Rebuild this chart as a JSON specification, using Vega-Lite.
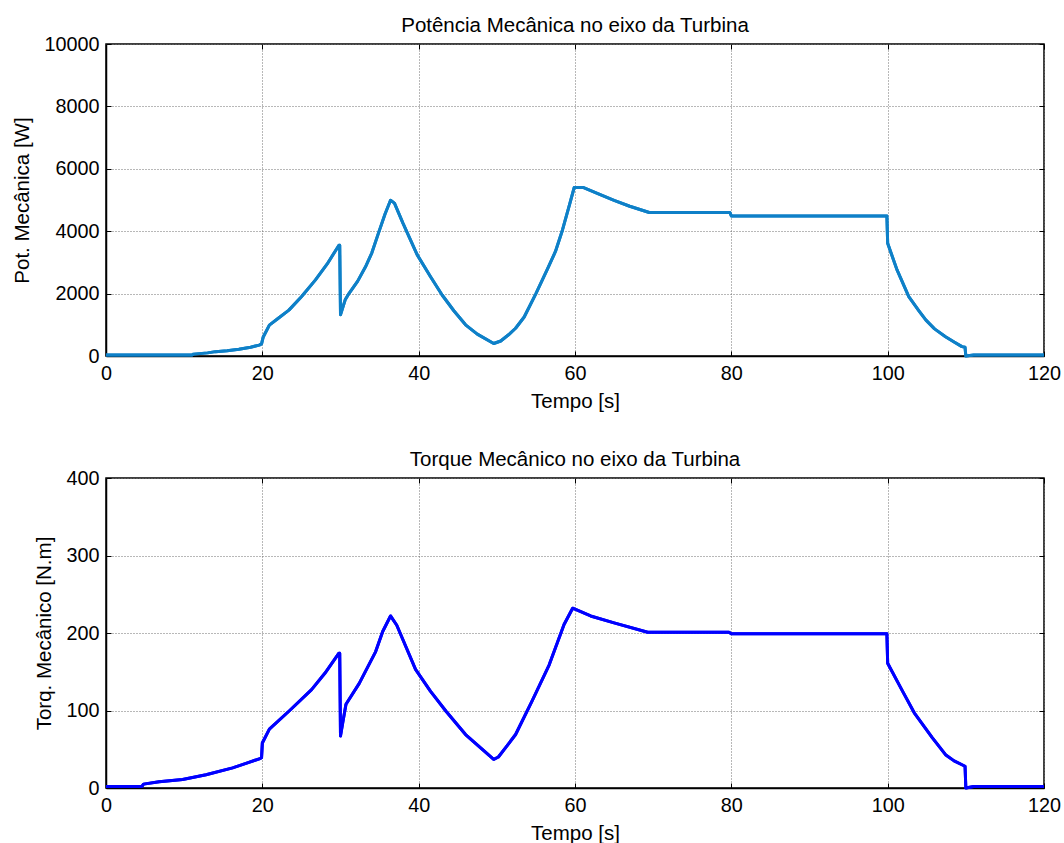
{
  "$schema": "https://vega.github.io/schema/vega-lite/v6.json",
  "background": "white",
  "padding": {"left": 12, "top": 14, "right": 12, "bottom": 2},
  "spacing": 34,
  "datasets": {
    "power": [
      {"t": 0, "p": 30}, {"t": 11, "p": 30}, {"t": 11.2, "p": 60}, {"t": 13, "p": 100}, {"t": 14, "p": 140},
      {"t": 15.5, "p": 170}, {"t": 17, "p": 215}, {"t": 18.5, "p": 280}, {"t": 19.6, "p": 350}, {"t": 19.9, "p": 390},
      {"t": 20.1, "p": 600}, {"t": 20.9, "p": 990}, {"t": 22, "p": 1200}, {"t": 23.4, "p": 1470}, {"t": 25, "p": 1900},
      {"t": 26.8, "p": 2440}, {"t": 28.3, "p": 2950}, {"t": 29.8, "p": 3550}, {"t": 29.9, "p": 3550}, {"t": 30.0, "p": 1320},
      {"t": 30.6, "p": 1800}, {"t": 31.1, "p": 2010}, {"t": 32.2, "p": 2400}, {"t": 33.2, "p": 2860}, {"t": 34.0, "p": 3300},
      {"t": 34.9, "p": 3970}, {"t": 35.7, "p": 4550}, {"t": 36.4, "p": 4990}, {"t": 36.9, "p": 4900}, {"t": 38, "p": 4250},
      {"t": 39.8, "p": 3250}, {"t": 41.5, "p": 2550}, {"t": 43, "p": 1955}, {"t": 44.5, "p": 1450}, {"t": 46, "p": 1000},
      {"t": 47.5, "p": 700}, {"t": 49.6, "p": 400}, {"t": 50.5, "p": 480}, {"t": 51.5, "p": 680}, {"t": 52.4, "p": 890},
      {"t": 53.5, "p": 1250}, {"t": 55, "p": 2000}, {"t": 56.5, "p": 2800}, {"t": 57.5, "p": 3350}, {"t": 58.4, "p": 4040},
      {"t": 59.3, "p": 4850}, {"t": 59.9, "p": 5400}, {"t": 61.1, "p": 5400}, {"t": 63, "p": 5200}, {"t": 65, "p": 4990},
      {"t": 67, "p": 4800}, {"t": 69.5, "p": 4600}, {"t": 79.8, "p": 4600}, {"t": 80, "p": 4490}, {"t": 99.9, "p": 4490},
      {"t": 100, "p": 3610}, {"t": 101.2, "p": 2760}, {"t": 102.7, "p": 1900}, {"t": 104, "p": 1450}, {"t": 104.9, "p": 1150},
      {"t": 106, "p": 870}, {"t": 107.4, "p": 620}, {"t": 108.5, "p": 450}, {"t": 109.5, "p": 300}, {"t": 109.9, "p": 280},
      {"t": 110, "p": 0}, {"t": 111, "p": 30}, {"t": 120, "p": 30}
    ],
    "torque": [
      {"t": 0, "q": 2}, {"t": 4.6, "q": 2}, {"t": 4.8, "q": 5}, {"t": 6.8, "q": 8}, {"t": 9.8, "q": 11},
      {"t": 12.8, "q": 17}, {"t": 16.2, "q": 26}, {"t": 18, "q": 32}, {"t": 19.7, "q": 38}, {"t": 19.9, "q": 39},
      {"t": 20, "q": 58}, {"t": 20.9, "q": 76}, {"t": 23.5, "q": 100}, {"t": 26.3, "q": 127}, {"t": 28, "q": 148},
      {"t": 29.8, "q": 174}, {"t": 29.9, "q": 174}, {"t": 30.0, "q": 67}, {"t": 30.3, "q": 85}, {"t": 30.7, "q": 108},
      {"t": 32.4, "q": 135}, {"t": 34.5, "q": 176}, {"t": 35.4, "q": 202}, {"t": 36.4, "q": 222}, {"t": 37.2, "q": 210},
      {"t": 39.6, "q": 153}, {"t": 41.5, "q": 125}, {"t": 43.5, "q": 99}, {"t": 46, "q": 69}, {"t": 48, "q": 51},
      {"t": 49.6, "q": 37}, {"t": 50.2, "q": 40}, {"t": 51.2, "q": 53}, {"t": 52.4, "q": 69}, {"t": 54.5, "q": 112},
      {"t": 56.7, "q": 159}, {"t": 58.6, "q": 211}, {"t": 59.7, "q": 232}, {"t": 62, "q": 222}, {"t": 65, "q": 213},
      {"t": 69.3, "q": 201}, {"t": 79.7, "q": 201}, {"t": 80, "q": 199}, {"t": 99.9, "q": 199}, {"t": 100, "q": 161},
      {"t": 101.9, "q": 125}, {"t": 103.4, "q": 97}, {"t": 105.7, "q": 65}, {"t": 107.4, "q": 43}, {"t": 108.5, "q": 35},
      {"t": 109.7, "q": 29}, {"t": 109.9, "q": 28}, {"t": 110, "q": 0}, {"t": 111, "q": 2}, {"t": 120, "q": 2}
    ]
  },
  "config": {
    "font": "Liberation Sans",
    "view": {"stroke": "black", "strokeWidth": 1.5},
    "axis": {
      "labelFont": "Liberation Sans", "labelFontSize": 19.8, "labelColor": "black",
      "titleFont": "Liberation Sans", "titleFontSize": 20.5, "titleFontWeight": "normal", "titleColor": "black",
      "domainColor": "black", "domainWidth": 1.5,
      "tickColor": "black", "tickSize": -5, "tickWidth": 1,
      "gridColor": "#707070", "gridDash": [1, 2], "gridOpacity": 1, "gridWidth": 1,
      "labelOverlap": false, "labelFlush": false, "format": "d"
    },
    "title": {"font": "Liberation Sans", "fontSize": 20.5, "fontWeight": "normal", "color": "black", "offset": -2}
  },
  "vconcat": [
    {
      "title": "Potência Mecânica no eixo da Turbina",
      "width": 938,
      "height": 312,
      "data": {"name": "power"},
      "layer": [
        {
          "mark": {"type": "line", "color": "#0e80c8", "strokeWidth": 3, "strokeJoin": "round"},
          "encoding": {
            "x": {"field": "t", "type": "quantitative", "scale": {"domain": [0, 120], "nice": false},
                  "axis": {"title": "Tempo [s]", "values": [0, 20, 40, 60, 80, 100, 120], "labelPadding": 12, "titlePadding": 9}},
            "y": {"field": "p", "type": "quantitative", "scale": {"domain": [0, 10000], "nice": false},
                  "axis": {"title": "Pot. Mecânica [W]", "values": [0, 2000, 4000, 6000, 8000, 10000], "labelPadding": 12, "titlePadding": 11}}
          }
        },
        {
          "mark": {"type": "line", "color": "#0e80c8", "strokeWidth": 3, "strokeJoin": "round"},
          "encoding": {
            "x": {"field": "t", "type": "quantitative",
                  "axis": {"orient": "top", "title": null, "labels": false, "grid": false, "domain": false, "values": [0, 20, 40, 60, 80, 100, 120]}},
            "y": {"field": "p", "type": "quantitative",
                  "axis": {"orient": "right", "title": null, "labels": false, "grid": false, "domain": false, "values": [0, 2000, 4000, 6000, 8000, 10000]}}
          }
        }
      ],
      "resolve": {"axis": {"x": "independent", "y": "independent"}}
    },
    {
      "title": "Torque Mecânico no eixo da Turbina",
      "width": 938,
      "height": 310,
      "data": {"name": "torque"},
      "layer": [
        {
          "mark": {"type": "line", "color": "#0000ff", "strokeWidth": 3, "strokeJoin": "round"},
          "encoding": {
            "x": {"field": "t", "type": "quantitative", "scale": {"domain": [0, 120], "nice": false},
                  "axis": {"title": "Tempo [s]", "values": [0, 20, 40, 60, 80, 100, 120], "labelPadding": 12, "titlePadding": 9}},
            "y": {"field": "q", "type": "quantitative", "scale": {"domain": [0, 400], "nice": false},
                  "axis": {"title": "Torq. Mecânico [N.m]", "values": [0, 100, 200, 300, 400], "labelPadding": 12, "titlePadding": 11}}
          }
        },
        {
          "mark": {"type": "line", "color": "#0000ff", "strokeWidth": 3, "strokeJoin": "round"},
          "encoding": {
            "x": {"field": "t", "type": "quantitative",
                  "axis": {"orient": "top", "title": null, "labels": false, "grid": false, "domain": false, "values": [0, 20, 40, 60, 80, 100, 120]}},
            "y": {"field": "q", "type": "quantitative",
                  "axis": {"orient": "right", "title": null, "labels": false, "grid": false, "domain": false, "values": [0, 100, 200, 300, 400]}}
          }
        }
      ],
      "resolve": {"axis": {"x": "independent", "y": "independent"}}
    }
  ]
}
